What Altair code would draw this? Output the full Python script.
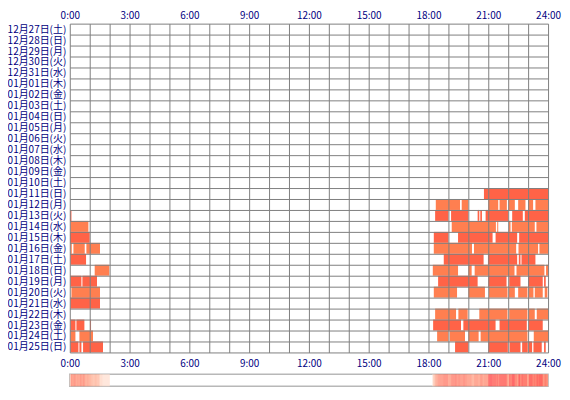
import json
import altair as alt
import pandas as pd

# ---- data -------------------------------------------------------------
day_labels = ["12月27日(土)", "12月28日(日)", "12月29日(月)", "12月30日(火)", "12月31日(水)",
              "01月01日(木)", "01月02日(金)", "01月03日(土)", "01月04日(日)", "01月05日(月)",
              "01月06日(火)", "01月07日(水)", "01月08日(木)", "01月09日(金)", "01月10日(土)",
              "01月11日(日)", "01月12日(月)", "01月13日(火)", "01月14日(水)", "01月15日(木)",
              "01月16日(金)", "01月17日(土)", "01月18日(日)", "01月19日(月)", "01月20日(火)",
              "01月21日(水)", "01月22日(木)", "01月23日(金)", "01月24日(土)", "01月25日(日)"]

# activity intervals per day ("start-end")
jan11 = ["20:47-24:00"]
jan12 = ["18:22-19:35", "19:40-20:00", "21:00-21:30", "21:34-21:56", "22:01-22:20",
         "22:30-22:52", "23:00-23:15", "23:22-24:00"]
jan13 = ["0:01-0:05", "18:20-19:00", "19:08-20:00", "20:28-20:33", "20:36-20:41",
         "20:52-22:00", "22:12-22:44", "22:50-24:00"]
jan14 = ["0:02-0:56", "19:10-21:23", "21:27-21:30", "22:02-22:07", "22:11-23:20", "23:25-24:00"]
jan15 = ["0:01-1:00", "18:16-19:00", "19:29-21:13", "21:22-22:27", "22:33-24:00"]
jan16 = ["0:02-0:06", "0:11-0:45", "0:50-1:31", "18:16-20:11", "20:17-22:24",
         "22:31-23:30", "23:34-24:00"]
jan17 = ["0:02-0:49", "18:46-20:46", "20:59-22:27", "22:32-22:37", "22:40-23:22"]
jan18 = ["1:15-1:59", "18:13-19:29", "20:00-20:10", "20:19-22:19", "22:25-23:49", "23:54-24:00"]
jan19 = ["0:02-0:35", "0:38-1:22", "18:29-20:28", "21:00-21:55", "22:03-22:37",
         "23:00-23:44", "23:48-23:53"]
jan20 = ["0:05-1:31", "18:16-19:26", "20:00-20:50", "21:02-21:58", "22:02-22:20",
         "22:30-22:58", "23:02-23:16", "23:20-23:44", "23:50-23:58"]
jan21 = ["0:02-1:31"]
jan22 = ["18:20-19:23", "19:30-19:58", "20:33-21:58", "22:03-22:58", "23:02-23:20", "23:26-24:00"]
jan23 = ["0:02-0:17", "0:20-0:44", "1:01-1:04", "18:14-19:38", "19:45-21:22",
         "21:34-22:56", "23:02-23:44"]
jan24 = ["0:02-0:17", "0:29-1:10", "18:26-19:00", "19:04-19:50", "20:00-20:31",
         "20:37-22:58", "23:17-24:00"]
jan25 = ["0:02-0:26", "0:29-0:35", "0:40-1:40", "19:20-20:00", "21:00-21:59", "22:04-22:37",
         "22:42-22:59", "23:02-23:12", "23:16-23:41", "23:48-23:53"]

day_segments = [("01月11日(日)", jan11), ("01月12日(月)", jan12), ("01月13日(火)", jan13),
                ("01月14日(水)", jan14), ("01月15日(木)", jan15), ("01月16日(金)", jan16),
                ("01月17日(土)", jan17), ("01月18日(日)", jan18), ("01月19日(月)", jan19),
                ("01月20日(火)", jan20), ("01月21日(水)", jan21), ("01月22日(木)", jan22),
                ("01月23日(金)", jan23), ("01月24日(土)", jan24), ("01月25日(日)", jan25)]

row_colors = ["#FF7F50", "#FF6347"]
hour_ticks = list(range(0, 1441, 60))

# ---- build tables -----------------------------------------------------
def to_min(s):
    h, m = s.split(":")
    return int(h) * 60 + int(m)

rows = []
for label, segs in day_segments:
    r = day_labels.index(label)
    for s in segs:
        a, b = s.split("-")
        rows.append({"row": r, "row2": r + 1, "start": to_min(a), "end": to_min(b),
                     "color": row_colors[r % 2]})
seg = pd.DataFrame(rows)

bins = list(range(0, 1440, 3))
counts = [int(((seg["start"] <= b + 1.5) & (seg["end"] > b + 1.5)).sum()) for b in bins]
grad = pd.DataFrame({"b0": bins, "b1": [b + 3 for b in bins], "n": counts})
grad = grad[grad["n"] > 0]

FONT = "Noto Sans CJK JP"
NAVY = "#000080"
GRID = "#808080"
x_scale = alt.Scale(domain=[0, 1440], nice=False, zero=False)
x_label_expr = "datum.value % 180 == 0 ? floor(datum.value / 60) + ':00' : ''"
y_label_expr = "datum.value < 30 ? " + json.dumps(day_labels, ensure_ascii=False) + "[datum.value] : ''"

main = alt.Chart(seg).mark_rect().encode(
    x=alt.X("start:Q", scale=x_scale,
            axis=alt.Axis(orient="top", values=hour_ticks, labelExpr=x_label_expr,
                          labelOverlap=False, labelFlush=False, ticks=False, domain=False,
                          grid=True, gridColor=GRID, gridWidth=1, gridOpacity=1,
                          labelPadding=3, labelFont=FONT, labelFontSize=10, labelColor=NAVY,
                          title=None, zindex=1, minExtent=16, maxExtent=16)),
    x2="end:Q",
    y=alt.Y("row:Q", scale=alt.Scale(domain=[0, 30], reverse=True, nice=False, zero=False),
            axis=alt.Axis(orient="left", values=list(range(0, 31)), labelExpr=y_label_expr,
                          labelOffset=5.5, labelBaseline="middle", labelOverlap=False,
                          labelFlush=False, ticks=False, domain=False, grid=True,
                          gridColor=GRID, gridWidth=1, gridOpacity=1, labelPadding=4,
                          labelFont=FONT, labelFontSize=10, labelColor=NAVY, title=None,
                          zindex=1, minExtent=62, maxExtent=62)),
    y2="row2:Q",
    color=alt.Color("color:N", scale=None),
).properties(width=480, height=330, view=alt.ViewBackground(stroke="transparent"))

bar = alt.Chart(grad).mark_rect().encode(
    x=alt.X("b0:Q", scale=x_scale,
            axis=alt.Axis(orient="top", values=list(range(0, 1441, 180)), labelExpr=x_label_expr,
                          labelOverlap=False, labelFlush=False, ticks=False, domain=False,
                          grid=False, labelPadding=6, labelFont=FONT, labelFontSize=10,
                          labelColor=NAVY, title=None)),
    x2="b1:Q",
    color=alt.Color("n:Q", scale=alt.Scale(domain=[1, max(counts)], range=["#ffe0d2", "#ff5050"]),
                    legend=None),
).properties(width=480, height=12, view=alt.ViewBackground(stroke="#b8b8b8", strokeWidth=1.5))

chart = alt.vconcat(main, bar, spacing=22, bounds="flush").properties(
    padding={"left": -2, "top": -2, "right": 0, "bottom": 0}
)

chart.save("out.html", embed_options={"renderer": "svg", "actions": False})
